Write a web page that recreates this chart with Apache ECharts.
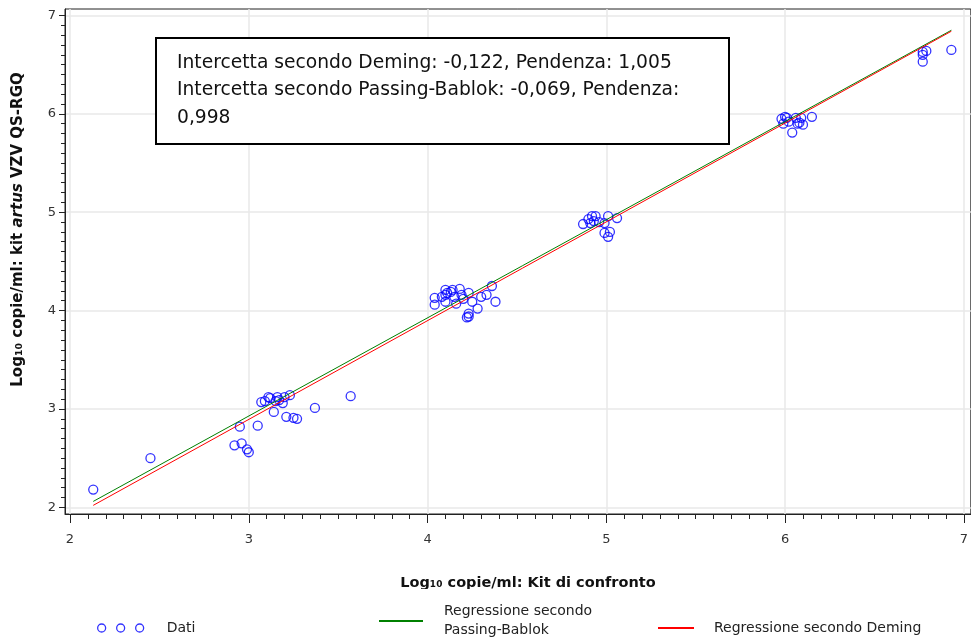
<!DOCTYPE html>
<html>
<head>
<meta charset="utf-8">
<script src="https://cdn.jsdelivr.net/npm/echarts@6/dist/echarts.min.js"></script>
<style>
  html, body { margin: 0; padding: 0; background: #fff; }
  #chart { width: 971px; height: 640px; }
</style>
</head>
<body>
<div id="chart"></div>
<script>
"use strict";

// data (log10 copies/ml: comparison kit, artus kit)
const points = [
  [2.13, 2.18], [2.45, 2.50], [2.95, 2.82], [2.92, 2.63], [2.96, 2.65], [2.99, 2.59], [3.00, 2.56],
  [3.05, 2.83], [3.07, 3.07], [3.11, 3.12], [3.09, 3.08], [3.12, 3.11], [3.14, 2.97], [3.15, 3.08],
  [3.16, 3.12], [3.17, 3.09], [3.19, 3.06], [3.20, 3.12], [3.23, 3.14], [3.21, 2.92], [3.25, 2.91],
  [3.27, 2.90], [3.37, 3.01], [3.57, 3.13],
  [4.04, 4.13], [4.04, 4.06], [4.11, 4.18], [4.13, 4.19], [4.10, 4.09], [4.15, 4.14], [4.18, 4.22],
  [4.19, 4.16], [4.23, 4.18], [4.25, 4.09], [4.23, 3.97], [4.23, 3.94], [4.22, 3.93], [4.28, 4.02],
  [4.30, 4.14], [4.33, 4.16], [4.36, 4.25], [4.38, 4.09], [4.16, 4.07], [4.10, 4.16], [4.10, 4.21],
  [4.14, 4.21], [4.08, 4.14], [4.20, 4.12],
  [4.87, 4.88], [4.90, 4.93], [4.92, 4.96], [4.94, 4.96], [4.91, 4.89], [4.96, 4.90], [5.01, 4.96],
  [5.06, 4.94], [4.99, 4.79], [5.01, 4.75], [5.02, 4.80], [4.99, 4.89], [4.93, 4.91],
  [5.98, 5.95], [6.00, 5.97], [6.01, 5.96], [5.99, 5.90], [6.02, 5.92], [6.04, 5.81], [6.06, 5.96],
  [6.08, 5.91], [6.10, 5.89], [6.09, 5.96], [6.15, 5.97], [6.07, 5.90],
  [6.77, 6.63], [6.77, 6.60], [6.77, 6.53], [6.79, 6.64], [6.93, 6.65]
];
const passingBablokLine = [[2.13, 2.06], [6.93, 6.85]];
const demingLine = [[2.13, 2.02], [6.93, 6.84]];
const xTicks = [2, 3, 4, 5, 6, 7];
const yTicks = [2, 3, 4, 5, 6, 7];
const minorTicks = [];
for (let i = 20; i <= 70; i++) minorTicks.push(i / 10);

const seriesNames = ["Dati", "Regressione secondo\nPassing-Bablok", "Regressione secondo Deming"];
const noteLines = [
  "Intercetta secondo Deming: -0,122, Pendenza: 1,005",
  "Intercetta secondo Passing-Bablok: -0,069, Pendenza:",
  "0,998"
];
const xTitle = "Log₁₀ copie/ml: Kit di confronto";
const yTitle = "Log₁₀ copie/ml: kit {i|artus} VZV QS-RGQ";

const font = "DejaVu Sans";
const colors = { dots: "#0000ff", green: "#008000", red: "#ff0000", axis: "#222", grid: "#e8e8e8", text: "#333" };
const xRange = { min: 1.972, max: 7.039 };
const yRange = { min: 1.932, max: 7.066 };
const dotsIcon = "path://M0,5a4,4 0 1,0 8,0a4,4 0 1,0 -8,0M19,5a4,4 0 1,0 8,0a4,4 0 1,0 -8,0M38,5a4,4 0 1,0 8,0a4,4 0 1,0 -8,0";

function mainAxis(dim, ticks) {
  const isX = dim === "x";
  return {
    type: "value", ...(isX ? xRange : yRange), position: isX ? "bottom" : "left",
    axisLine: { show: true, lineStyle: { color: colors.axis, width: 1 } },
    axisTick: { show: true, length: isX ? 9 : 6, customValues: ticks, lineStyle: { color: colors.axis } },
    axisLabel: { customValues: ticks, margin: isX ? 19 : 9, color: colors.text, fontFamily: font, fontSize: 13 },
    splitLine: { show: true, lineStyle: { color: colors.grid, width: 1.5 } },
  };
}

function minorAxis(dim) {
  const isX = dim === "x";
  return {
    type: "value", ...(isX ? xRange : yRange), position: isX ? "bottom" : "left",
    axisLine: { show: false },
    axisTick: { show: true, length: isX ? 5 : 4, customValues: minorTicks, lineStyle: { color: colors.axis } },
    axisLabel: { show: false }, splitLine: { show: false },
  };
}

const xMain = mainAxis("x", xTicks);
xMain.name = xTitle;
xMain.nameLocation = "middle";
xMain.nameGap = 62;
xMain.nameTextStyle = { fontFamily: font, fontWeight: "bold", fontSize: 14.5, color: "#111", padding: [0, 0, 0, 20] };

const yMain = mainAxis("y", yTicks);
yMain.name = yTitle;
yMain.nameLocation = "middle";
yMain.nameGap = 39;
yMain.nameTextStyle = {
  fontFamily: font, fontWeight: "bold", fontSize: 15, color: "#111", padding: [0, 0, 0, 64],
  rich: { i: { fontFamily: font, fontWeight: "bold", fontStyle: "italic", fontSize: 15, color: "#111" } },
};

const legendText = { fontFamily: font, fontSize: 14, color: "#222", lineHeight: 19 };

const chart = echarts.init(document.getElementById("chart"), null, { renderer: "canvas" });
chart.setOption({
  animation: false,
  backgroundColor: "#fff",
  grid: { left: 65, top: 9, right: -5, bottom: 126, show: true, borderColor: colors.axis, borderWidth: 1, backgroundColor: "#fff" },
  xAxis: [xMain, minorAxis("x")],
  yAxis: [yMain, minorAxis("y")],
  legend: [
    {
      left: 97, top: 618.5, padding: 0, itemWidth: 46, itemHeight: 8,
      data: [{ name: seriesNames[0], icon: dotsIcon, itemStyle: { color: "transparent", borderColor: colors.dots, borderWidth: 1.3 } }],
      textStyle: { ...legendText, padding: [0, 0, 0, 18] },
    },
    {
      left: 379, top: 602, padding: 0, itemWidth: 44, itemHeight: 2,
      data: [{ name: seriesNames[1], icon: "rect" }],
      textStyle: { ...legendText, padding: [0, 0, 0, 16] },
    },
    {
      left: 658, top: 618.5, padding: 0, itemWidth: 36, itemHeight: 2,
      data: [{ name: seriesNames[2], icon: "rect" }],
      textStyle: { ...legendText, padding: [0, 0, 0, 15] },
    },
  ],
  series: [
    {
      name: seriesNames[0], type: "scatter", data: points, symbol: "circle", symbolSize: 9,
      itemStyle: { color: "transparent", borderColor: colors.dots, borderWidth: 1.3 },
    },
    {
      name: seriesNames[1], type: "line", data: passingBablokLine, symbol: "none",
      lineStyle: { color: colors.green, width: 1 }, itemStyle: { color: colors.green },
    },
    {
      name: seriesNames[2], type: "line", data: demingLine, symbol: "none",
      lineStyle: { color: colors.red, width: 1 }, itemStyle: { color: colors.red },
    },
  ],
  graphic: [
    {
      type: "group", left: 155, top: 37, z: 50,
      children: [
        { type: "rect", z: 50, shape: { x: 0, y: 0, width: 573, height: 106 }, style: { fill: "#fff", stroke: "#000", lineWidth: 2 } },
        { type: "text", z: 51, x: 21, y: 11, style: { text: noteLines.join("\n"), fontFamily: font, fontSize: 18.7, lineHeight: 27.5, fill: "#111" } },
      ],
    },
    // the reference's legend band cuts off the descenders of the x-axis title
    { type: "rect", z: 40, left: 390, top: 589, shape: { width: 280, height: 10 }, style: { fill: "#fff" } },
  ],
});
</script>
</body>
</html>
